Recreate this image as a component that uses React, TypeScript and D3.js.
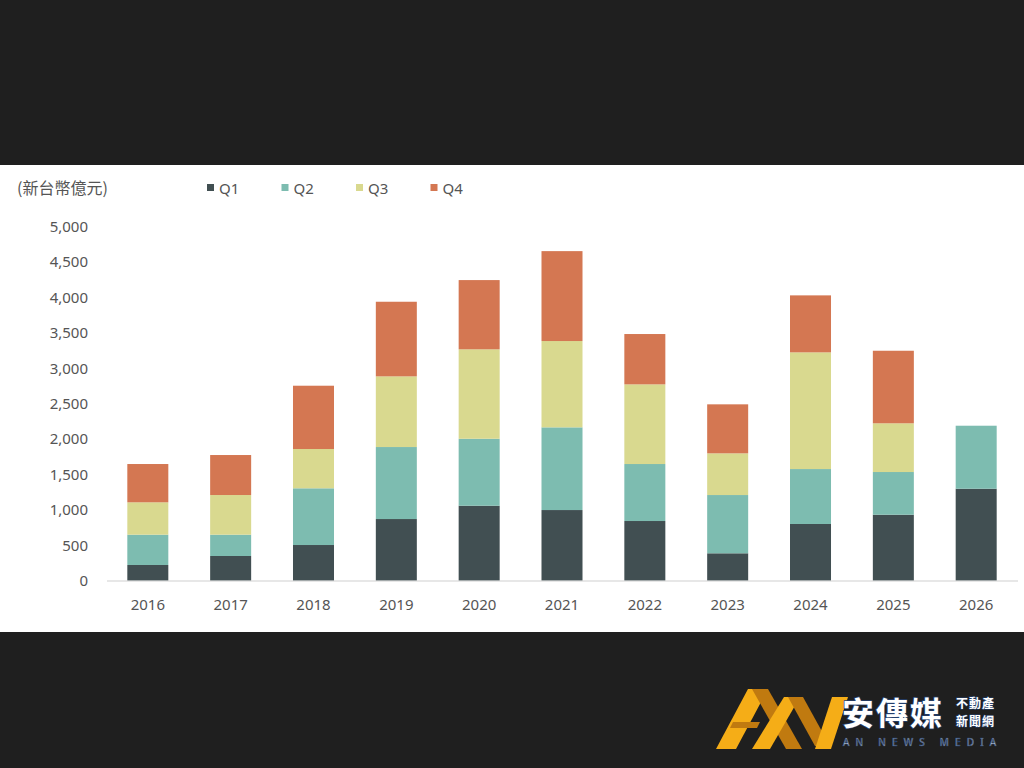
import React from "react";
import * as d3 from "d3";

const years = ["2016", "2017", "2018", "2019", "2020", "2021", "2022", "2023", "2024", "2025", "2026"];
const q1 = [222, 349, 504, 871, 1059, 998, 843, 387, 801, 932, 1299];
const q2 = [428, 301, 801, 1017, 946, 1168, 805, 823, 776, 603, 890];
const q3 = [457, 560, 555, 998, 1263, 1219, 1125, 589, 1648, 688, 0];
const q4 = [541, 565, 894, 1054, 978, 1270, 711, 692, 805, 1025, 0];
const seriesNames = ["Q1", "Q2", "Q3", "Q4"];
const seriesColors = ["#414f52", "#7dbcb0", "#d9d98f", "#d47752"];
const yTicks = [0, 500, 1000, 1500, 2000, 2500, 3000, 3500, 4000, 4500, 5000];
const unitLabel = "(新台幣億元)";

const W = 1024;
const H = 768;

export default function App() {
  const rows = years.map((y, i) => ({ year: y, Q1: q1[i], Q2: q2[i], Q3: q3[i], Q4: q4[i] }));
  const stack = d3.stack<any>().keys(seriesNames)(rows);
  const x = d3.scaleBand<string>().domain(years).range([106.4, 1017.6]).paddingInner(0.505).paddingOuter(0.2525);
  const y = d3.scaleLinear().domain([0, 5000]).range([580.7, 226.7]);
  const fmt = d3.format(",");
  const font = "'Noto Sans', 'DejaVu Sans', sans-serif";
  const cjk = "'Noto Sans CJK TC', sans-serif";

  return (
    <svg width={W} height={H} style={{ position: "absolute", left: 0, top: 0, display: "block" }}>
      <rect x={0} y={0} width={W} height={H} fill="#1f1f1f" />
      <rect x={0} y={165} width={W} height={467} fill="#ffffff" />

      {/* unit label */}
      <text x={17} y={194} fontSize={16} fill="#555" fontFamily={cjk}>{unitLabel}</text>

      {/* legend */}
      {seriesNames.map((s, i) => (
        <g key={s} transform={`translate(${207 + i * 74.5},0)`}>
          <rect x={0} y={184} width={7} height={7} fill={seriesColors[i]} />
          <text x={12} y={194} fontSize={15} fill="#555" fontFamily={font}>{s}</text>
        </g>
      ))}

      {/* y tick labels */}
      {yTicks.map((t) => (
        <text key={t} x={88} y={y(t)} dy="0.35em" textAnchor="end" fontSize={15} fill="#555" fontFamily={font}>
          {fmt(t)}
        </text>
      ))}

      {/* bars */}
      {stack.map((layer, si) => (
        <g key={layer.key} fill={seriesColors[si]}>
          {layer.map((d, i) => {
            const h = y(d[0]) - y(d[1]);
            if (h <= 0) return null;
            return <rect key={i} x={x(years[i])} y={y(d[1])} width={x.bandwidth()} height={h} />;
          })}
        </g>
      ))}

      {/* baseline */}
      <line x1={107} x2={1018} y1={581} y2={581} stroke="#cfcfcf" strokeWidth={1} />

      {/* x labels */}
      {years.map((yr) => (
        <text key={yr} x={(x(yr) as number) + x.bandwidth() / 2} y={605} dy="0.35em" textAnchor="middle" fontSize={15} fill="#555" fontFamily={font}>
          {yr}
        </text>
      ))}

      {/* logo */}
      <g>
        <polygon points="716,749 736,749 768,689 748,689" fill="#f5ad17" />
        <polygon points="752,689 768,689 802,749 786,749" fill="#c07a10" />
        <polygon points="733,722 760,722 757,728 730,728" fill="#c07a10" />
        <polygon points="752,749 770,749 800,697 784,697" fill="#f5ad17" />
        <polygon points="788,697 803,697 830,746 815,746" fill="#c07a10" />
        <polygon points="815,749 831,749 848,697 832,697" fill="#f5ad17" />
        <text x={842} y={725} fontSize={32} fontWeight="bold" fill="#ffffff" stroke="#24406e" strokeWidth={1.5} paintOrder="stroke"
          fontFamily={cjk} letterSpacing={2}>安傳媒</text>
        <text x={956} y={708} fontSize={12} fontWeight="bold" fill="#ffffff" stroke="#24406e" strokeWidth={1} paintOrder="stroke"
          fontFamily={cjk} letterSpacing={1}>不動產</text>
        <text x={956} y={726} fontSize={12} fontWeight="bold" fill="#ffffff" stroke="#24406e" strokeWidth={1} paintOrder="stroke"
          fontFamily={cjk} letterSpacing={1}>新聞網</text>
        <text x={843} y={746} fontSize={10} fill="#ffffff" stroke="#24406e" strokeWidth={0.6} fontFamily={font} letterSpacing={6.2}>AN NEWS MEDIA</text>
      </g>
    </svg>
  );
}
